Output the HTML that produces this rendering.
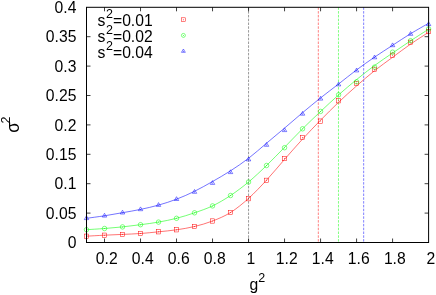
<!DOCTYPE html>
<html><head><meta charset="utf-8"><title>plot</title>
<style>html,body{margin:0;padding:0;background:#fff;overflow:hidden}body{width:436px;height:295px;position:relative;font-family:"Liberation Sans",sans-serif}</style>
</head><body>
<svg width="436" height="295" viewBox="0 0 436 295" style="position:absolute;left:0;top:0;filter:blur(0.3px)">
<rect width="436" height="295" fill="#fff"/>
<line x1="248.55" y1="7.3" x2="248.55" y2="242.5" stroke="#000" stroke-width="0.4" stroke-dasharray="2.5 1.3"/>
<line x1="318.32" y1="7.3" x2="318.32" y2="242.5" stroke="#ff0000" stroke-width="0.5" stroke-dasharray="2.5 1.3"/>
<line x1="338.48" y1="7.3" x2="338.48" y2="242.5" stroke="#00ff00" stroke-width="0.5" stroke-dasharray="2.5 1.3"/>
<line x1="363.66" y1="7.3" x2="363.66" y2="242.5" stroke="#0000ff" stroke-width="0.5" stroke-dasharray="2.5 1.3"/>
<path d="M86.50,236.20 C89.50,236.03 98.50,235.50 104.51,235.20 C110.51,234.90 116.51,234.68 122.51,234.40 C128.51,234.12 134.51,233.93 140.52,233.50 C146.52,233.07 152.52,232.42 158.52,231.80 C164.52,231.18 170.52,230.68 176.53,229.80 C182.53,228.92 188.53,227.97 194.53,226.50 C200.53,225.03 206.54,223.33 212.54,221.00 C218.54,218.67 224.54,216.27 230.54,212.50 C236.54,208.73 242.55,203.80 248.55,198.40 C254.55,193.00 260.55,186.60 266.55,180.10 C272.55,173.60 278.56,166.23 284.56,159.40 C290.56,152.57 296.56,145.63 302.56,139.10 C308.56,132.57 314.57,126.33 320.57,120.20 C326.57,114.07 332.57,108.02 338.57,102.30 C344.58,96.58 350.58,91.17 356.58,85.90 C362.58,80.63 368.58,75.47 374.58,70.70 C380.59,65.93 386.59,61.73 392.59,57.30 C398.59,52.87 404.59,48.27 410.59,44.10 C416.60,39.93 425.60,34.27 428.60,32.30" fill="none" stroke="#ff0000" stroke-width="0.55"/>
<path d="M86.50,229.70 C89.50,229.50 98.50,228.97 104.51,228.50 C110.51,228.03 116.51,227.53 122.51,226.90 C128.51,226.27 134.51,225.50 140.52,224.70 C146.52,223.90 152.52,223.17 158.52,222.10 C164.52,221.03 170.52,219.85 176.53,218.30 C182.53,216.75 188.53,214.87 194.53,212.80 C200.53,210.73 206.54,208.78 212.54,205.90 C218.54,203.02 224.54,199.48 230.54,195.50 C236.54,191.52 242.55,187.00 248.55,182.00 C254.55,177.00 260.55,171.28 266.55,165.50 C272.55,159.72 278.56,153.42 284.56,147.30 C290.56,141.18 296.56,134.77 302.56,128.80 C308.56,122.83 314.57,117.15 320.57,111.50 C326.57,105.85 332.57,100.22 338.57,94.90 C344.58,89.58 350.58,84.50 356.58,79.60 C362.58,74.70 368.58,69.93 374.58,65.50 C380.59,61.07 386.59,57.12 392.59,53.00 C398.59,48.88 404.59,44.77 410.59,40.80 C416.60,36.83 425.60,31.13 428.60,29.20" fill="none" stroke="#00ff00" stroke-width="0.55"/>
<path d="M86.50,218.30 C89.50,217.88 98.50,216.73 104.51,215.80 C110.51,214.87 116.51,213.77 122.51,212.70 C128.51,211.63 134.51,210.67 140.52,209.40 C146.52,208.13 152.52,206.80 158.52,205.10 C164.52,203.40 170.52,201.50 176.53,199.20 C182.53,196.90 188.53,194.25 194.53,191.30 C200.53,188.35 206.54,184.92 212.54,181.50 C218.54,178.08 224.54,174.67 230.54,170.80 C236.54,166.93 242.55,162.90 248.55,158.30 C254.55,153.70 260.55,148.23 266.55,143.20 C272.55,138.17 278.56,133.18 284.56,128.10 C290.56,123.02 296.56,117.73 302.56,112.70 C308.56,107.67 314.57,102.68 320.57,97.90 C326.57,93.12 332.57,88.67 338.57,84.00 C344.58,79.33 350.58,74.38 356.58,69.90 C362.58,65.42 368.58,61.20 374.58,57.10 C380.59,53.00 386.59,49.20 392.59,45.30 C398.59,41.40 404.59,37.37 410.59,33.70 C416.60,30.03 425.60,25.03 428.60,23.30" fill="none" stroke="#0000ff" stroke-width="0.55"/>
<rect x="84.35" y="234.05" width="4.3" height="4.3" fill="none" stroke="#ff0000" stroke-width="0.5"/>
<circle cx="86.50" cy="236.20" r="0.5" fill="#ff0000" fill-opacity="0.8"/>
<rect x="102.36" y="233.05" width="4.3" height="4.3" fill="none" stroke="#ff0000" stroke-width="0.5"/>
<circle cx="104.51" cy="235.20" r="0.5" fill="#ff0000" fill-opacity="0.8"/>
<rect x="120.36" y="232.25" width="4.3" height="4.3" fill="none" stroke="#ff0000" stroke-width="0.5"/>
<circle cx="122.51" cy="234.40" r="0.5" fill="#ff0000" fill-opacity="0.8"/>
<rect x="138.37" y="231.35" width="4.3" height="4.3" fill="none" stroke="#ff0000" stroke-width="0.5"/>
<circle cx="140.52" cy="233.50" r="0.5" fill="#ff0000" fill-opacity="0.8"/>
<rect x="156.37" y="229.65" width="4.3" height="4.3" fill="none" stroke="#ff0000" stroke-width="0.5"/>
<circle cx="158.52" cy="231.80" r="0.5" fill="#ff0000" fill-opacity="0.8"/>
<rect x="174.38" y="227.65" width="4.3" height="4.3" fill="none" stroke="#ff0000" stroke-width="0.5"/>
<circle cx="176.53" cy="229.80" r="0.5" fill="#ff0000" fill-opacity="0.8"/>
<rect x="192.38" y="224.35" width="4.3" height="4.3" fill="none" stroke="#ff0000" stroke-width="0.5"/>
<circle cx="194.53" cy="226.50" r="0.5" fill="#ff0000" fill-opacity="0.8"/>
<rect x="210.39" y="218.85" width="4.3" height="4.3" fill="none" stroke="#ff0000" stroke-width="0.5"/>
<circle cx="212.54" cy="221.00" r="0.5" fill="#ff0000" fill-opacity="0.8"/>
<rect x="228.39" y="210.35" width="4.3" height="4.3" fill="none" stroke="#ff0000" stroke-width="0.5"/>
<circle cx="230.54" cy="212.50" r="0.5" fill="#ff0000" fill-opacity="0.8"/>
<rect x="246.40" y="196.55" width="4.3" height="4.3" fill="none" stroke="#ff0000" stroke-width="0.5"/>
<circle cx="248.55" cy="198.70" r="0.5" fill="#ff0000" fill-opacity="0.8"/>
<rect x="264.40" y="178.15" width="4.3" height="4.3" fill="none" stroke="#ff0000" stroke-width="0.5"/>
<circle cx="266.55" cy="180.30" r="0.5" fill="#ff0000" fill-opacity="0.8"/>
<rect x="282.41" y="156.45" width="4.3" height="4.3" fill="none" stroke="#ff0000" stroke-width="0.5"/>
<circle cx="284.56" cy="158.60" r="0.5" fill="#ff0000" fill-opacity="0.8"/>
<rect x="300.41" y="135.25" width="4.3" height="4.3" fill="none" stroke="#ff0000" stroke-width="0.5"/>
<circle cx="302.56" cy="137.40" r="0.5" fill="#ff0000" fill-opacity="0.8"/>
<rect x="318.42" y="118.95" width="4.3" height="4.3" fill="none" stroke="#ff0000" stroke-width="0.5"/>
<circle cx="320.57" cy="121.10" r="0.5" fill="#ff0000" fill-opacity="0.8"/>
<rect x="336.42" y="98.65" width="4.3" height="4.3" fill="none" stroke="#ff0000" stroke-width="0.5"/>
<circle cx="338.57" cy="100.80" r="0.5" fill="#ff0000" fill-opacity="0.8"/>
<rect x="354.43" y="81.35" width="4.3" height="4.3" fill="none" stroke="#ff0000" stroke-width="0.5"/>
<circle cx="356.58" cy="83.50" r="0.5" fill="#ff0000" fill-opacity="0.8"/>
<rect x="372.43" y="67.15" width="4.3" height="4.3" fill="none" stroke="#ff0000" stroke-width="0.5"/>
<circle cx="374.58" cy="69.30" r="0.5" fill="#ff0000" fill-opacity="0.8"/>
<rect x="390.44" y="53.05" width="4.3" height="4.3" fill="none" stroke="#ff0000" stroke-width="0.5"/>
<circle cx="392.59" cy="55.20" r="0.5" fill="#ff0000" fill-opacity="0.8"/>
<rect x="408.44" y="40.15" width="4.3" height="4.3" fill="none" stroke="#ff0000" stroke-width="0.5"/>
<circle cx="410.59" cy="42.30" r="0.5" fill="#ff0000" fill-opacity="0.8"/>
<rect x="426.45" y="29.25" width="4.3" height="4.3" fill="none" stroke="#ff0000" stroke-width="0.5"/>
<circle cx="428.60" cy="31.40" r="0.5" fill="#ff0000" fill-opacity="0.8"/>
<circle cx="86.50" cy="229.70" r="2.25" fill="none" stroke="#00ff00" stroke-width="0.5"/>
<circle cx="86.50" cy="229.70" r="0.5" fill="#00ff00" fill-opacity="0.8"/>
<circle cx="104.51" cy="228.50" r="2.25" fill="none" stroke="#00ff00" stroke-width="0.5"/>
<circle cx="104.51" cy="228.50" r="0.5" fill="#00ff00" fill-opacity="0.8"/>
<circle cx="122.51" cy="226.90" r="2.25" fill="none" stroke="#00ff00" stroke-width="0.5"/>
<circle cx="122.51" cy="226.90" r="0.5" fill="#00ff00" fill-opacity="0.8"/>
<circle cx="140.52" cy="224.70" r="2.25" fill="none" stroke="#00ff00" stroke-width="0.5"/>
<circle cx="140.52" cy="224.70" r="0.5" fill="#00ff00" fill-opacity="0.8"/>
<circle cx="158.52" cy="222.10" r="2.25" fill="none" stroke="#00ff00" stroke-width="0.5"/>
<circle cx="158.52" cy="222.10" r="0.5" fill="#00ff00" fill-opacity="0.8"/>
<circle cx="176.53" cy="218.30" r="2.25" fill="none" stroke="#00ff00" stroke-width="0.5"/>
<circle cx="176.53" cy="218.30" r="0.5" fill="#00ff00" fill-opacity="0.8"/>
<circle cx="194.53" cy="212.80" r="2.25" fill="none" stroke="#00ff00" stroke-width="0.5"/>
<circle cx="194.53" cy="212.80" r="0.5" fill="#00ff00" fill-opacity="0.8"/>
<circle cx="212.54" cy="205.90" r="2.25" fill="none" stroke="#00ff00" stroke-width="0.5"/>
<circle cx="212.54" cy="205.90" r="0.5" fill="#00ff00" fill-opacity="0.8"/>
<circle cx="230.54" cy="195.50" r="2.25" fill="none" stroke="#00ff00" stroke-width="0.5"/>
<circle cx="230.54" cy="195.50" r="0.5" fill="#00ff00" fill-opacity="0.8"/>
<circle cx="248.55" cy="182.00" r="2.25" fill="none" stroke="#00ff00" stroke-width="0.5"/>
<circle cx="248.55" cy="182.00" r="0.5" fill="#00ff00" fill-opacity="0.8"/>
<circle cx="266.55" cy="165.50" r="2.25" fill="none" stroke="#00ff00" stroke-width="0.5"/>
<circle cx="266.55" cy="165.50" r="0.5" fill="#00ff00" fill-opacity="0.8"/>
<circle cx="284.56" cy="147.70" r="2.25" fill="none" stroke="#00ff00" stroke-width="0.5"/>
<circle cx="284.56" cy="147.70" r="0.5" fill="#00ff00" fill-opacity="0.8"/>
<circle cx="302.56" cy="128.80" r="2.25" fill="none" stroke="#00ff00" stroke-width="0.5"/>
<circle cx="302.56" cy="128.80" r="0.5" fill="#00ff00" fill-opacity="0.8"/>
<circle cx="320.57" cy="111.40" r="2.25" fill="none" stroke="#00ff00" stroke-width="0.5"/>
<circle cx="320.57" cy="111.40" r="0.5" fill="#00ff00" fill-opacity="0.8"/>
<circle cx="338.57" cy="94.80" r="2.25" fill="none" stroke="#00ff00" stroke-width="0.5"/>
<circle cx="338.57" cy="94.80" r="0.5" fill="#00ff00" fill-opacity="0.8"/>
<circle cx="356.58" cy="81.80" r="2.25" fill="none" stroke="#00ff00" stroke-width="0.5"/>
<circle cx="356.58" cy="81.80" r="0.5" fill="#00ff00" fill-opacity="0.8"/>
<circle cx="374.58" cy="67.10" r="2.25" fill="none" stroke="#00ff00" stroke-width="0.5"/>
<circle cx="374.58" cy="67.10" r="0.5" fill="#00ff00" fill-opacity="0.8"/>
<circle cx="392.59" cy="52.20" r="2.25" fill="none" stroke="#00ff00" stroke-width="0.5"/>
<circle cx="392.59" cy="52.20" r="0.5" fill="#00ff00" fill-opacity="0.8"/>
<circle cx="410.59" cy="40.70" r="2.25" fill="none" stroke="#00ff00" stroke-width="0.5"/>
<circle cx="410.59" cy="40.70" r="0.5" fill="#00ff00" fill-opacity="0.8"/>
<circle cx="428.60" cy="29.00" r="2.25" fill="none" stroke="#00ff00" stroke-width="0.5"/>
<circle cx="428.60" cy="29.00" r="0.5" fill="#00ff00" fill-opacity="0.8"/>
<path d="M86.50,215.80 L84.30,219.60 L88.70,219.60 Z" fill="none" stroke="#0000ff" stroke-width="0.5"/>
<circle cx="86.50" cy="218.30" r="0.5" fill="#0000ff" fill-opacity="0.8"/>
<path d="M104.51,213.30 L102.31,217.10 L106.71,217.10 Z" fill="none" stroke="#0000ff" stroke-width="0.5"/>
<circle cx="104.51" cy="215.80" r="0.5" fill="#0000ff" fill-opacity="0.8"/>
<path d="M122.51,210.20 L120.31,214.00 L124.71,214.00 Z" fill="none" stroke="#0000ff" stroke-width="0.5"/>
<circle cx="122.51" cy="212.70" r="0.5" fill="#0000ff" fill-opacity="0.8"/>
<path d="M140.52,206.90 L138.32,210.70 L142.72,210.70 Z" fill="none" stroke="#0000ff" stroke-width="0.5"/>
<circle cx="140.52" cy="209.40" r="0.5" fill="#0000ff" fill-opacity="0.8"/>
<path d="M158.52,202.60 L156.32,206.40 L160.72,206.40 Z" fill="none" stroke="#0000ff" stroke-width="0.5"/>
<circle cx="158.52" cy="205.10" r="0.5" fill="#0000ff" fill-opacity="0.8"/>
<path d="M176.53,196.70 L174.33,200.50 L178.73,200.50 Z" fill="none" stroke="#0000ff" stroke-width="0.5"/>
<circle cx="176.53" cy="199.20" r="0.5" fill="#0000ff" fill-opacity="0.8"/>
<path d="M194.53,189.50 L192.33,193.30 L196.73,193.30 Z" fill="none" stroke="#0000ff" stroke-width="0.5"/>
<circle cx="194.53" cy="192.00" r="0.5" fill="#0000ff" fill-opacity="0.8"/>
<path d="M212.54,180.60 L210.34,184.40 L214.74,184.40 Z" fill="none" stroke="#0000ff" stroke-width="0.5"/>
<circle cx="212.54" cy="183.10" r="0.5" fill="#0000ff" fill-opacity="0.8"/>
<path d="M230.54,169.80 L228.34,173.60 L232.74,173.60 Z" fill="none" stroke="#0000ff" stroke-width="0.5"/>
<circle cx="230.54" cy="172.30" r="0.5" fill="#0000ff" fill-opacity="0.8"/>
<path d="M248.55,157.10 L246.35,160.90 L250.75,160.90 Z" fill="none" stroke="#0000ff" stroke-width="0.5"/>
<circle cx="248.55" cy="159.60" r="0.5" fill="#0000ff" fill-opacity="0.8"/>
<path d="M266.55,142.50 L264.35,146.30 L268.75,146.30 Z" fill="none" stroke="#0000ff" stroke-width="0.5"/>
<circle cx="266.55" cy="145.00" r="0.5" fill="#0000ff" fill-opacity="0.8"/>
<path d="M284.56,127.80 L282.36,131.60 L286.76,131.60 Z" fill="none" stroke="#0000ff" stroke-width="0.5"/>
<circle cx="284.56" cy="130.30" r="0.5" fill="#0000ff" fill-opacity="0.8"/>
<path d="M302.56,111.40 L300.36,115.20 L304.76,115.20 Z" fill="none" stroke="#0000ff" stroke-width="0.5"/>
<circle cx="302.56" cy="113.90" r="0.5" fill="#0000ff" fill-opacity="0.8"/>
<path d="M320.57,96.30 L318.37,100.10 L322.77,100.10 Z" fill="none" stroke="#0000ff" stroke-width="0.5"/>
<circle cx="320.57" cy="98.80" r="0.5" fill="#0000ff" fill-opacity="0.8"/>
<path d="M338.57,82.10 L336.37,85.90 L340.77,85.90 Z" fill="none" stroke="#0000ff" stroke-width="0.5"/>
<circle cx="338.57" cy="84.60" r="0.5" fill="#0000ff" fill-opacity="0.8"/>
<path d="M356.58,68.10 L354.38,71.90 L358.78,71.90 Z" fill="none" stroke="#0000ff" stroke-width="0.5"/>
<circle cx="356.58" cy="70.60" r="0.5" fill="#0000ff" fill-opacity="0.8"/>
<path d="M374.58,55.00 L372.38,58.80 L376.78,58.80 Z" fill="none" stroke="#0000ff" stroke-width="0.5"/>
<circle cx="374.58" cy="57.50" r="0.5" fill="#0000ff" fill-opacity="0.8"/>
<path d="M392.59,42.90 L390.39,46.70 L394.79,46.70 Z" fill="none" stroke="#0000ff" stroke-width="0.5"/>
<circle cx="392.59" cy="45.40" r="0.5" fill="#0000ff" fill-opacity="0.8"/>
<path d="M410.59,31.50 L408.39,35.30 L412.79,35.30 Z" fill="none" stroke="#0000ff" stroke-width="0.5"/>
<circle cx="410.59" cy="34.00" r="0.5" fill="#0000ff" fill-opacity="0.8"/>
<path d="M428.60,21.80 L426.40,25.60 L430.80,25.60 Z" fill="none" stroke="#0000ff" stroke-width="0.5"/>
<circle cx="428.60" cy="24.30" r="0.5" fill="#0000ff" fill-opacity="0.8"/>
<rect x="181.51" y="17.81" width="3.784" height="3.784" fill="none" stroke="#ff0000" stroke-width="0.5"/>
<circle cx="183.40" cy="19.70" r="0.5" fill="#ff0000" fill-opacity="0.8"/>
<circle cx="183.40" cy="35.40" r="1.98" fill="none" stroke="#00ff00" stroke-width="0.5"/>
<circle cx="183.40" cy="35.40" r="0.5" fill="#00ff00" fill-opacity="0.8"/>
<path d="M183.40,49.00 L181.46,52.34 L185.34,52.34 Z" fill="none" stroke="#0000ff" stroke-width="0.5"/>
<circle cx="183.40" cy="51.20" r="0.5" fill="#0000ff" fill-opacity="0.8"/>
<line x1="86.5" y1="213.10" x2="90.5" y2="213.10" stroke="#000" stroke-width="0.75"/>
<line x1="428.6" y1="213.10" x2="424.6" y2="213.10" stroke="#000" stroke-width="0.75"/>
<line x1="86.5" y1="183.70" x2="90.5" y2="183.70" stroke="#000" stroke-width="0.75"/>
<line x1="428.6" y1="183.70" x2="424.6" y2="183.70" stroke="#000" stroke-width="0.75"/>
<line x1="86.5" y1="154.30" x2="90.5" y2="154.30" stroke="#000" stroke-width="0.75"/>
<line x1="428.6" y1="154.30" x2="424.6" y2="154.30" stroke="#000" stroke-width="0.75"/>
<line x1="86.5" y1="124.90" x2="90.5" y2="124.90" stroke="#000" stroke-width="0.75"/>
<line x1="428.6" y1="124.90" x2="424.6" y2="124.90" stroke="#000" stroke-width="0.75"/>
<line x1="86.5" y1="95.50" x2="90.5" y2="95.50" stroke="#000" stroke-width="0.75"/>
<line x1="428.6" y1="95.50" x2="424.6" y2="95.50" stroke="#000" stroke-width="0.75"/>
<line x1="86.5" y1="66.10" x2="90.5" y2="66.10" stroke="#000" stroke-width="0.75"/>
<line x1="428.6" y1="66.10" x2="424.6" y2="66.10" stroke="#000" stroke-width="0.75"/>
<line x1="86.5" y1="36.70" x2="90.5" y2="36.70" stroke="#000" stroke-width="0.75"/>
<line x1="428.6" y1="36.70" x2="424.6" y2="36.70" stroke="#000" stroke-width="0.75"/>
<line x1="104.51" y1="242.5" x2="104.51" y2="238.5" stroke="#000" stroke-width="0.75"/>
<line x1="104.51" y1="7.3" x2="104.51" y2="11.3" stroke="#000" stroke-width="0.75"/>
<line x1="140.52" y1="242.5" x2="140.52" y2="238.5" stroke="#000" stroke-width="0.75"/>
<line x1="140.52" y1="7.3" x2="140.52" y2="11.3" stroke="#000" stroke-width="0.75"/>
<line x1="176.53" y1="242.5" x2="176.53" y2="238.5" stroke="#000" stroke-width="0.75"/>
<line x1="176.53" y1="7.3" x2="176.53" y2="11.3" stroke="#000" stroke-width="0.75"/>
<line x1="212.54" y1="242.5" x2="212.54" y2="238.5" stroke="#000" stroke-width="0.75"/>
<line x1="212.54" y1="7.3" x2="212.54" y2="11.3" stroke="#000" stroke-width="0.75"/>
<line x1="248.55" y1="242.5" x2="248.55" y2="238.5" stroke="#000" stroke-width="0.75"/>
<line x1="248.55" y1="7.3" x2="248.55" y2="11.3" stroke="#000" stroke-width="0.75"/>
<line x1="284.56" y1="242.5" x2="284.56" y2="238.5" stroke="#000" stroke-width="0.75"/>
<line x1="284.56" y1="7.3" x2="284.56" y2="11.3" stroke="#000" stroke-width="0.75"/>
<line x1="320.57" y1="242.5" x2="320.57" y2="238.5" stroke="#000" stroke-width="0.75"/>
<line x1="320.57" y1="7.3" x2="320.57" y2="11.3" stroke="#000" stroke-width="0.75"/>
<line x1="356.58" y1="242.5" x2="356.58" y2="238.5" stroke="#000" stroke-width="0.75"/>
<line x1="356.58" y1="7.3" x2="356.58" y2="11.3" stroke="#000" stroke-width="0.75"/>
<line x1="392.59" y1="242.5" x2="392.59" y2="238.5" stroke="#000" stroke-width="0.75"/>
<line x1="392.59" y1="7.3" x2="392.59" y2="11.3" stroke="#000" stroke-width="0.75"/>
<rect x="86.5" y="7.3" width="342.1" height="235.2" fill="none" stroke="#000" stroke-width="1.0"/>
<g font-family="Liberation Sans, sans-serif" font-size="15.7" fill="#000">
<text x="76.4" y="248.20" text-anchor="end">0</text>
<text x="76.4" y="218.80" text-anchor="end">0.05</text>
<text x="76.4" y="189.40" text-anchor="end">0.1</text>
<text x="76.4" y="160.00" text-anchor="end">0.15</text>
<text x="76.4" y="130.60" text-anchor="end">0.2</text>
<text x="76.4" y="101.20" text-anchor="end">0.25</text>
<text x="76.4" y="71.80" text-anchor="end">0.3</text>
<text x="76.4" y="42.40" text-anchor="end">0.35</text>
<text x="76.4" y="13.00" text-anchor="end">0.4</text>
<text x="106.71" y="264" text-anchor="middle">0.2</text>
<text x="142.72" y="264" text-anchor="middle">0.4</text>
<text x="178.73" y="264" text-anchor="middle">0.6</text>
<text x="214.74" y="264" text-anchor="middle">0.8</text>
<text x="250.75" y="264" text-anchor="middle">1</text>
<text x="286.76" y="264" text-anchor="middle">1.2</text>
<text x="322.77" y="264" text-anchor="middle">1.4</text>
<text x="358.78" y="264" text-anchor="middle">1.6</text>
<text x="394.79" y="264" text-anchor="middle">1.8</text>
<text x="430.80" y="264" text-anchor="middle">2</text>
<text x="97.6" y="25.80">s<tspan font-size="12.5" dy="-8" dx="0.6">2</tspan><tspan dy="8">=0.01</tspan></text>
<text x="97.6" y="41.70">s<tspan font-size="12.5" dy="-8" dx="0.6">2</tspan><tspan dy="8">=0.02</tspan></text>
<text x="97.6" y="57.60">s<tspan font-size="12.5" dy="-8" dx="0.6">2</tspan><tspan dy="8">=0.04</tspan></text>
<text x="249.5" y="290">g<tspan font-size="12.5" dy="-8.3">2</tspan></text>
<text transform="translate(19,132.7) rotate(-90) scale(1,1.08)" font-size="17">σ</text>
<text transform="translate(9.8,123.55) rotate(-90)" font-size="12.5">2</text>
</g>
</svg>
</body></html>
